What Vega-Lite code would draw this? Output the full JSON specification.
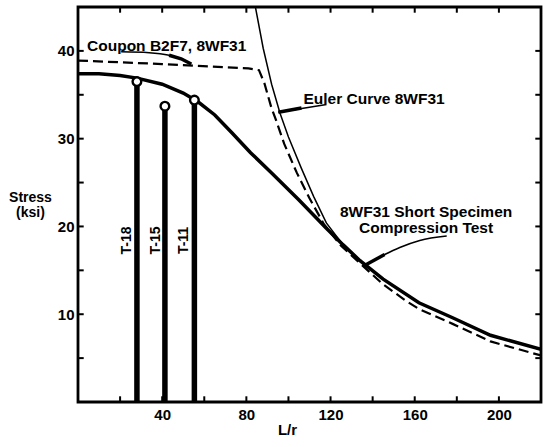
{
  "$schema": "https://vega.github.io/schema/vega-lite/v6.json",
  "width": 463,
  "height": 395,
  "autosize": {"type": "none"},
  "padding": {"left": 78, "top": 7, "right": 3, "bottom": 45},
  "background": "white",
  "config": {
    "view": {"stroke": "black", "strokeWidth": 2.8},
    "font": "Liberation Sans",
    "axis": {
      "grid": false,
      "domain": false,
      "ticks": false,
      "labelFont": "Liberation Sans",
      "labelFontWeight": "bold",
      "labelFontSize": 15,
      "labelColor": "black",
      "titleFont": "Liberation Sans",
      "titleFontWeight": "bold",
      "titleColor": "black"
    }
  },
  "datasets": {
    "curves": [
      {"series": "short", "x": 0, "y": 37.4},
      {"series": "short", "x": 10, "y": 37.4},
      {"series": "short", "x": 20, "y": 37.2},
      {"series": "short", "x": 28, "y": 36.9},
      {"series": "short", "x": 40, "y": 36.2},
      {"series": "short", "x": 50, "y": 35.2},
      {"series": "short", "x": 57, "y": 34.2},
      {"series": "short", "x": 65, "y": 32.7},
      {"series": "short", "x": 73, "y": 30.7},
      {"series": "short", "x": 82, "y": 28.4},
      {"series": "short", "x": 92, "y": 26.1},
      {"series": "short", "x": 105, "y": 23.0},
      {"series": "short", "x": 118, "y": 19.8},
      {"series": "short", "x": 126, "y": 17.9},
      {"series": "short", "x": 134, "y": 16.1},
      {"series": "short", "x": 145, "y": 14.0},
      {"series": "short", "x": 162, "y": 11.3},
      {"series": "short", "x": 178, "y": 9.6},
      {"series": "short", "x": 196, "y": 7.6},
      {"series": "short", "x": 220, "y": 6.0},
      {"series": "euler", "x": 84.3, "y": 45},
      {"series": "euler", "x": 88, "y": 40.3},
      {"series": "euler", "x": 92, "y": 36.2},
      {"series": "euler", "x": 96, "y": 32.9},
      {"series": "euler", "x": 100, "y": 30.2},
      {"series": "euler", "x": 106, "y": 26.7},
      {"series": "euler", "x": 112, "y": 23.4},
      {"series": "euler", "x": 118, "y": 20.4},
      {"series": "euler", "x": 125, "y": 18.2},
      {"series": "euler", "x": 134, "y": 16.1},
      {"series": "euler", "x": 145, "y": 14.0},
      {"series": "euler", "x": 162, "y": 11.3},
      {"series": "euler", "x": 178, "y": 9.6},
      {"series": "euler", "x": 196, "y": 7.6},
      {"series": "euler", "x": 220, "y": 6.0},
      {"series": "coupon", "x": 0, "y": 38.9},
      {"series": "coupon", "x": 40, "y": 38.5},
      {"series": "coupon", "x": 81, "y": 38.0},
      {"series": "coupon", "x": 86, "y": 37.8},
      {"series": "coupon", "x": 88.6, "y": 36.3},
      {"series": "coupon", "x": 91.8, "y": 33.6},
      {"series": "coupon", "x": 94.1, "y": 32.1},
      {"series": "coupon", "x": 98, "y": 29.4},
      {"series": "coupon", "x": 104, "y": 26.1},
      {"series": "coupon", "x": 110, "y": 23.2},
      {"series": "coupon", "x": 117, "y": 20.2},
      {"series": "coupon", "x": 125, "y": 17.8},
      {"series": "coupon", "x": 134, "y": 15.8},
      {"series": "coupon", "x": 145, "y": 13.4},
      {"series": "coupon", "x": 156, "y": 11.5},
      {"series": "coupon", "x": 162, "y": 10.6},
      {"series": "coupon", "x": 178, "y": 8.9},
      {"series": "coupon", "x": 196, "y": 6.9},
      {"series": "coupon", "x": 220, "y": 5.3}
    ],
    "xticks": [
      {"v": 20, "lo": 0, "hi": 45}, {"v": 40, "lo": 0, "hi": 45}, {"v": 60, "lo": 0, "hi": 45},
      {"v": 80, "lo": 0, "hi": 45}, {"v": 100, "lo": 0, "hi": 45}, {"v": 120, "lo": 0, "hi": 45},
      {"v": 140, "lo": 0, "hi": 45}, {"v": 160, "lo": 0, "hi": 45}, {"v": 180, "lo": 0, "hi": 45},
      {"v": 200, "lo": 0, "hi": 45}
    ],
    "yticks": [
      {"v": 5, "lo": 0, "hi": 220}, {"v": 10, "lo": 0, "hi": 220}, {"v": 15, "lo": 0, "hi": 220},
      {"v": 20, "lo": 0, "hi": 220}, {"v": 25, "lo": 0, "hi": 220}, {"v": 30, "lo": 0, "hi": 220},
      {"v": 35, "lo": 0, "hi": 220}, {"v": 40, "lo": 0, "hi": 220}
    ],
    "specimens": [
      {"name": "T-18", "x": 28, "y": 36.5, "base": 0, "lx": 23.3, "ly": 18.4},
      {"name": "T-15", "x": 41.3, "y": 33.7, "base": 0, "lx": 37.1, "ly": 18.4},
      {"name": "T-11", "x": 55.3, "y": 34.4, "base": 0, "lx": 50.5, "ly": 18.4}
    ],
    "leaders": [
      {"id": "coupon", "i": 1, "x": 20.5, "y": 39.9},
      {"id": "coupon", "i": 2, "x": 33.8, "y": 39.8},
      {"id": "coupon", "i": 3, "x": 43.3, "y": 39.5},
      {"id": "coupon", "i": 4, "x": 49.0, "y": 39.1},
      {"id": "coupon", "i": 5, "x": 53.8, "y": 38.5},
      {"id": "euler", "i": 1, "x": 118.1, "y": 33.9},
      {"id": "euler", "i": 2, "x": 95.2, "y": 33.0},
      {"id": "comp", "i": 1, "x": 175.2, "y": 18.9},
      {"id": "comp", "i": 2, "x": 162.4, "y": 18.4},
      {"id": "comp", "i": 3, "x": 152.9, "y": 17.6},
      {"id": "comp", "i": 4, "x": 145.7, "y": 16.8},
      {"id": "comp", "i": 5, "x": 135.7, "y": 15.5}
    ],
    "heads": [
      {"id": "coupon", "i": 1, "x": 43.3, "y": 39.5},
      {"id": "coupon", "i": 2, "x": 49.0, "y": 39.1},
      {"id": "coupon", "i": 3, "x": 53.8, "y": 38.5},
      {"id": "euler", "i": 1, "x": 106.2, "y": 33.5},
      {"id": "euler", "i": 2, "x": 95.2, "y": 33.0},
      {"id": "comp", "i": 1, "x": 145.7, "y": 16.8},
      {"id": "comp", "i": 2, "x": 135.7, "y": 15.5}
    ],
    "labels": [
      {"text": "Coupon B2F7, 8WF31", "x": 4.3, "y": 40.6, "align": "left"},
      {"text": "Euler Curve 8WF31", "x": 107.1, "y": 34.5, "align": "left"},
      {"text": "8WF31 Short Specimen", "x": 165.4, "y": 21.7, "align": "center"},
      {"text": "Compression Test", "x": 165.4, "y": 19.8, "align": "center"}
    ]
  },
  "layer": [
    {
      "data": {"name": "curves"},
      "transform": [{"filter": "datum.series == 'short'"}],
      "mark": {"type": "line", "color": "black", "strokeWidth": 3.5, "clip": true},
      "encoding": {
        "x": {"field": "x", "type": "quantitative",
          "scale": {"domain": [0, 220], "nice": false, "zero": false},
          "axis": {"orient": "bottom", "values": [40, 80, 120, 160, 200],
            "labelPadding": 5, "title": "L/r", "titleFontSize": 15,
            "titleX": 209, "titleY": 27, "titleAlign": "center", "titleBaseline": "middle"}},
        "y": {"field": "y", "type": "quantitative",
          "scale": {"domain": [0, 45], "nice": false, "zero": false},
          "axis": {"orient": "left", "values": [10, 20, 30, 40],
            "labelPadding": 4, "title": ["Stress", "(ksi)"], "titleFontSize": 14,
            "titleAngle": 0, "titleX": -48, "titleY": 190, "titleAlign": "center",
            "titleBaseline": "middle", "titleLineHeight": 15}}
      }
    },
    {
      "data": {"name": "curves"},
      "transform": [{"filter": "datum.series == 'euler'"}],
      "mark": {"type": "line", "color": "black", "strokeWidth": 1.5, "clip": true},
      "encoding": {
        "x": {"field": "x", "type": "quantitative"},
        "y": {"field": "y", "type": "quantitative"}
      }
    },
    {
      "data": {"name": "curves"},
      "transform": [{"filter": "datum.series == 'coupon'"}],
      "mark": {"type": "line", "color": "black", "strokeWidth": 2.2, "strokeDash": [10, 5], "clip": true},
      "encoding": {
        "x": {"field": "x", "type": "quantitative"},
        "y": {"field": "y", "type": "quantitative"}
      }
    },
    {
      "data": {"name": "xticks"},
      "mark": {"type": "point", "shape": "M0,-1V0", "size": 130, "filled": false, "stroke": "black", "strokeWidth": 2, "opacity": 1, "strokeCap": "butt"},
      "encoding": {
        "x": {"field": "v", "type": "quantitative"},
        "y": {"field": "lo", "type": "quantitative"}
      }
    },
    {
      "data": {"name": "xticks"},
      "mark": {"type": "point", "shape": "M0,1V0", "size": 130, "filled": false, "stroke": "black", "strokeWidth": 2, "opacity": 1, "strokeCap": "butt"},
      "encoding": {
        "x": {"field": "v", "type": "quantitative"},
        "y": {"field": "hi", "type": "quantitative"}
      }
    },
    {
      "data": {"name": "yticks"},
      "mark": {"type": "point", "shape": "M0,0H1", "size": 130, "filled": false, "stroke": "black", "strokeWidth": 2, "opacity": 1, "strokeCap": "butt"},
      "encoding": {
        "y": {"field": "v", "type": "quantitative"},
        "x": {"field": "lo", "type": "quantitative"}
      }
    },
    {
      "data": {"name": "yticks"},
      "mark": {"type": "point", "shape": "M0,0H-1", "size": 130, "filled": false, "stroke": "black", "strokeWidth": 2, "opacity": 1, "strokeCap": "butt"},
      "encoding": {
        "y": {"field": "v", "type": "quantitative"},
        "x": {"field": "hi", "type": "quantitative"}
      }
    },
    {
      "data": {"name": "specimens"},
      "mark": {"type": "rule", "color": "black", "strokeWidth": 5.5},
      "encoding": {
        "x": {"field": "x", "type": "quantitative"},
        "y": {"field": "y", "type": "quantitative"},
        "y2": {"field": "base"}
      }
    },
    {
      "data": {"name": "specimens"},
      "mark": {"type": "point", "shape": "circle", "filled": true, "fill": "white", "stroke": "black", "strokeWidth": 2.4, "size": 75, "opacity": 1},
      "encoding": {
        "x": {"field": "x", "type": "quantitative"},
        "y": {"field": "y", "type": "quantitative"}
      }
    },
    {
      "data": {"name": "specimens"},
      "mark": {"type": "text", "angle": 270, "font": "Liberation Sans", "fontWeight": "bold", "fontSize": 14, "align": "center", "baseline": "middle", "color": "black"},
      "encoding": {
        "x": {"field": "lx", "type": "quantitative"},
        "y": {"field": "ly", "type": "quantitative"},
        "text": {"field": "name"}
      }
    },
    {
      "data": {"name": "leaders"},
      "mark": {"type": "line", "color": "black", "strokeWidth": 1.5, "interpolate": "monotone"},
      "encoding": {
        "x": {"field": "x", "type": "quantitative"},
        "y": {"field": "y", "type": "quantitative"},
        "detail": {"field": "id"},
        "order": {"field": "i"}
      }
    },
    {
      "data": {"name": "heads"},
      "mark": {"type": "line", "color": "black", "strokeWidth": 3.5, "strokeCap": "butt"},
      "encoding": {
        "x": {"field": "x", "type": "quantitative"},
        "y": {"field": "y", "type": "quantitative"},
        "detail": {"field": "id"},
        "order": {"field": "i"}
      }
    },
    {
      "data": {"name": "labels"},
      "transform": [{"filter": "datum.align == 'left'"}],
      "mark": {"type": "text", "font": "Liberation Sans", "fontWeight": "bold", "fontSize": 15.5, "align": "left", "baseline": "middle", "color": "black"},
      "encoding": {
        "x": {"field": "x", "type": "quantitative"},
        "y": {"field": "y", "type": "quantitative"},
        "text": {"field": "text"}
      }
    },
    {
      "data": {"name": "labels"},
      "transform": [{"filter": "datum.align == 'center'"}],
      "mark": {"type": "text", "font": "Liberation Sans", "fontWeight": "bold", "fontSize": 15.5, "align": "center", "baseline": "middle", "color": "black"},
      "encoding": {
        "x": {"field": "x", "type": "quantitative"},
        "y": {"field": "y", "type": "quantitative"},
        "text": {"field": "text"}
      }
    }
  ]
}
